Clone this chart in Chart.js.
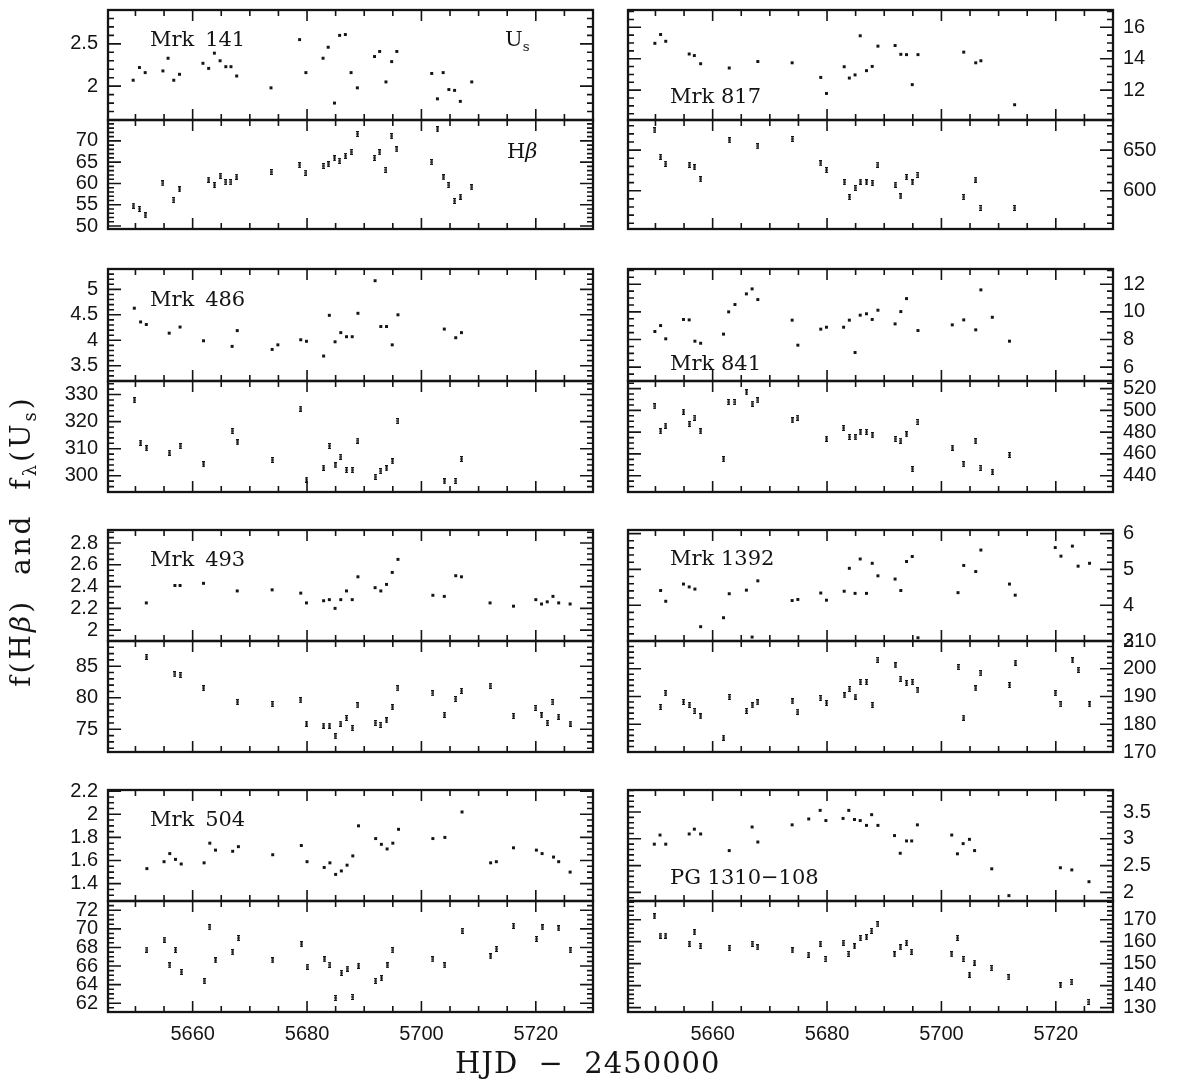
<!DOCTYPE html>
<html>
<head>
<meta charset="utf-8">
<title>Us and Hbeta light curves</title>
<script src="https://cdn.jsdelivr.net/npm/chart.js@4.4.1/dist/chart.umd.min.js"></script>
<style>
  html, body { margin: 0; padding: 0; background: #fff; }
  #page { position: relative; width: 1177px; height: 1082px; overflow: hidden; }
  #page canvas { position: absolute; }
  .txt { position: absolute; font-family: "DejaVu Serif", serif; color: #141414;
         white-space: pre; font-size: 21px; line-height: 22px; }
  .txt sub { font-size: 64%; vertical-align: -0.35em; line-height: 0; }
</style>
</head>
<body>
<div id="page"></div>
<script>
// ---- data: HJD - 2450000 and fluxes ----
const mrk141UsDays = [5649.6, 5650.7, 5651.7, 5654.8, 5655.7, 5656.7, 5657.7, 5661.8, 5662.8, 5663.8, 5664.8, 5665.8, 5666.7, 5667.7, 5673.7, 5678.7, 5679.8, 5682.8, 5683.7, 5684.8, 5685.7, 5686.7, 5687.7, 5688.8, 5691.8, 5692.7, 5693.8, 5694.8, 5695.7, 5701.8, 5702.8, 5703.8, 5704.8, 5705.8, 5706.8, 5708.8];
const mrk141Us = [2.07, 2.22, 2.16, 2.18, 2.33, 2.07, 2.14, 2.27, 2.21, 2.39, 2.30, 2.23, 2.23, 2.12, 1.98, 2.55, 2.16, 2.33, 2.46, 1.80, 2.60, 2.61, 2.16, 1.98, 2.35, 2.41, 2.05, 2.29, 2.41, 2.15, 1.85, 2.16, 1.96, 1.95, 1.82, 2.05];
const mrk141HbDays = [5649.6, 5650.7, 5651.7, 5654.8, 5656.7, 5657.7, 5662.8, 5663.8, 5664.8, 5665.8, 5666.7, 5667.7, 5673.7, 5678.7, 5679.8, 5682.8, 5683.7, 5684.8, 5685.7, 5686.7, 5687.7, 5688.8, 5691.8, 5692.7, 5693.8, 5694.8, 5695.7, 5701.8, 5702.8, 5703.8, 5704.8, 5705.8, 5706.8, 5708.8];
const mrk141Hb = [54.8, 54.0, 52.5, 60.0, 56.1, 58.6, 60.9, 59.6, 61.8, 60.3, 60.3, 61.6, 62.7, 64.3, 62.5, 64.1, 64.5, 65.9, 65.3, 66.5, 67.4, 71.6, 66.0, 67.3, 63.2, 71.1, 68.0, 65.0, 72.7, 61.4, 59.6, 55.9, 56.9, 59.1];

const mrk817Days = [5649.9, 5650.9, 5651.8, 5655.9, 5656.8, 5657.9, 5662.9, 5667.9, 5673.9, 5678.9, 5679.9, 5683.0, 5683.9, 5684.9, 5685.8, 5686.9, 5687.9, 5688.9, 5691.9, 5692.9, 5693.9, 5694.9, 5695.9, 5703.9, 5706.0, 5706.9, 5712.8];
const mrk817Us = [14.98, 15.54, 15.11, 14.30, 14.20, 13.68, 13.41, 13.82, 13.74, 12.81, 11.79, 13.49, 12.77, 12.97, 15.46, 13.24, 13.51, 14.80, 14.84, 14.28, 14.26, 12.35, 14.26, 14.42, 13.74, 13.87, 11.07];
const mrk817Hb = [674.2, 641.8, 633.2, 632.0, 628.9, 614.1, 662.1, 654.7, 663.7, 633.6, 625.4, 610.5, 592.2, 603.5, 611.3, 610.2, 609.4, 632.0, 607.4, 593.0, 616.8, 610.2, 619.5, 592.2, 613.7, 578.9, 578.9];

const mrk486UsDays = [5649.8, 5650.9, 5651.9, 5655.9, 5657.8, 5661.9, 5666.9, 5667.8, 5673.9, 5674.9, 5678.9, 5679.9, 5682.9, 5683.9, 5684.9, 5685.9, 5686.9, 5687.9, 5688.9, 5691.9, 5692.9, 5693.9, 5694.9, 5695.9, 5704.0, 5706.0, 5707.0];
const mrk486Us = [4.63, 4.36, 4.31, 4.14, 4.26, 3.99, 3.88, 4.19, 3.82, 3.91, 4.01, 3.98, 3.69, 4.49, 3.97, 4.15, 4.07, 4.07, 4.53, 5.17, 4.27, 4.27, 3.91, 4.50, 4.22, 4.05, 4.15];
const mrk486HbDays = [5649.8, 5650.9, 5651.9, 5655.9, 5657.8, 5661.9, 5666.9, 5667.8, 5673.9, 5678.9, 5679.9, 5682.9, 5683.9, 5684.9, 5685.9, 5686.9, 5687.9, 5688.9, 5691.9, 5692.9, 5693.9, 5694.9, 5695.9, 5704.0, 5706.0, 5707.0];
const mrk486Hb = [327.9, 312.2, 310.2, 308.5, 310.9, 304.2, 316.5, 312.3, 305.8, 324.8, 298.6, 303.0, 311.0, 303.8, 307.0, 302.1, 302.1, 313.0, 299.6, 301.7, 302.7, 305.3, 320.2, 297.9, 298.1, 306.2];

const mrk841UsDays = [5649.9, 5650.9, 5651.8, 5654.9, 5655.9, 5656.9, 5657.9, 5661.9, 5662.8, 5663.9, 5665.9, 5666.9, 5667.9, 5673.9, 5674.9, 5678.9, 5679.9, 5682.9, 5683.9, 5684.9, 5685.8, 5686.9, 5687.9, 5688.9, 5691.9, 5692.9, 5693.9, 5695.9, 5701.9, 5703.9, 5706.0, 5706.9, 5708.9, 5711.9];
const mrk841Us = [8.58, 9.01, 8.05, 9.45, 9.42, 7.88, 7.73, 8.39, 10.0, 10.53, 11.30, 11.66, 10.89, 9.40, 7.59, 8.75, 8.89, 8.89, 9.40, 7.06, 9.76, 9.86, 9.45, 10.12, 9.13, 10.02, 10.96, 8.65, 9.06, 9.42, 8.70, 11.59, 9.61, 7.88];
const mrk841HbDays = [5649.9, 5650.9, 5651.8, 5654.9, 5655.9, 5656.9, 5657.9, 5661.9, 5662.8, 5663.9, 5665.9, 5666.9, 5667.9, 5673.9, 5674.9, 5679.9, 5682.9, 5683.9, 5684.9, 5685.8, 5686.9, 5687.9, 5691.9, 5692.9, 5693.9, 5694.9, 5695.9, 5701.9, 5703.9, 5706.0, 5706.9, 5708.9, 5711.9];
const mrk841Hb = [503.7, 480.8, 486.0, 498.8, 487.5, 493.3, 480.8, 455.1, 507.6, 507.6, 516.5, 506.1, 509.2, 490.8, 493.3, 474.0, 483.8, 475.6, 475.3, 479.8, 480.2, 477.1, 473.7, 472.2, 478.0, 446.0, 489.3, 465.8, 450.5, 471.6, 447.2, 443.5, 459.1];

const mrk493Days = [5651.9, 5656.9, 5657.8, 5661.9, 5667.8, 5673.9, 5678.9, 5679.9, 5682.9, 5683.9, 5684.9, 5685.9, 5686.9, 5687.9, 5688.9, 5691.9, 5692.9, 5693.9, 5694.9, 5695.9, 5702.0, 5704.0, 5706.0, 5707.0, 5712.0, 5716.1, 5720.0, 5721.0, 5722.0, 5723.0, 5724.0, 5726.0];
const mrk493Us = [2.25, 2.41, 2.41, 2.43, 2.36, 2.37, 2.34, 2.25, 2.27, 2.28, 2.20, 2.28, 2.36, 2.28, 2.49, 2.39, 2.36, 2.42, 2.53, 2.65, 2.32, 2.31, 2.50, 2.49, 2.25, 2.22, 2.28, 2.24, 2.26, 2.31, 2.25, 2.24];
const mrk493Hb = [86.5, 83.7, 83.6, 81.5, 79.3, 79.0, 79.6, 75.9, 75.6, 75.6, 73.9, 75.9, 76.8, 75.2, 78.8, 76.0, 75.7, 76.4, 78.5, 81.5, 80.7, 77.3, 79.8, 81.1, 81.9, 77.1, 78.4, 77.2, 76.0, 79.3, 77.0, 75.9];

const mrk1392Days = [5650.9, 5651.8, 5654.9, 5655.9, 5656.9, 5657.9, 5661.9, 5662.9, 5665.9, 5666.9, 5667.9, 5673.9, 5674.9, 5678.9, 5679.9, 5683.0, 5683.9, 5684.9, 5685.8, 5686.9, 5687.9, 5688.9, 5691.9, 5692.9, 5693.9, 5694.9, 5695.9, 5702.9, 5703.9, 5706.0, 5706.9, 5711.9, 5712.9, 5719.9, 5720.9, 5722.9, 5723.9, 5725.9];
const mrk1392Us = [4.41, 4.11, 4.59, 4.51, 4.45, 3.40, 3.65, 4.32, 4.42, 3.11, 4.68, 4.13, 4.16, 4.34, 4.14, 4.39, 5.03, 4.33, 5.29, 4.33, 5.17, 4.82, 4.73, 4.41, 5.22, 5.36, 3.09, 4.35, 5.11, 4.94, 5.54, 4.59, 4.28, 5.61, 5.37, 5.65, 5.09, 5.17];
const mrk1392Hb = [186.2, 191.2, 188.0, 187.0, 184.8, 182.8, 175.2, 189.8, 184.8, 186.8, 187.9, 188.2, 184.5, 189.4, 187.6, 190.4, 192.7, 190.0, 195.2, 195.2, 186.9, 203.2, 201.2, 196.4, 194.8, 195.2, 192.2, 200.6, 182.4, 192.9, 198.4, 194.1, 202.2, 191.2, 187.2, 203.0, 199.6, 187.2];

const mrk504UsDays = [5652.0, 5655.0, 5656.0, 5657.0, 5658.0, 5662.0, 5663.0, 5664.0, 5667.0, 5668.0, 5674.0, 5679.0, 5680.0, 5683.0, 5684.0, 5685.0, 5686.0, 5687.0, 5688.0, 5689.0, 5692.0, 5693.0, 5694.0, 5695.0, 5696.0, 5702.0, 5704.1, 5707.1, 5712.1, 5713.1, 5716.1, 5720.1, 5721.1, 5723.1, 5724.0, 5726.0];
const mrk504Us = [1.53, 1.59, 1.66, 1.61, 1.57, 1.58, 1.75, 1.69, 1.68, 1.72, 1.65, 1.73, 1.59, 1.54, 1.58, 1.48, 1.51, 1.56, 1.64, 1.90, 1.79, 1.74, 1.70, 1.75, 1.87, 1.79, 1.80, 2.02, 1.58, 1.59, 1.71, 1.69, 1.66, 1.63, 1.59, 1.50];
const mrk504HbDays = [5652.0, 5655.0, 5656.0, 5657.0, 5658.0, 5662.0, 5663.0, 5664.0, 5667.0, 5668.0, 5674.0, 5679.0, 5680.0, 5683.0, 5684.0, 5685.0, 5686.0, 5687.0, 5688.0, 5689.0, 5692.0, 5693.0, 5694.0, 5695.0, 5702.0, 5704.1, 5707.1, 5712.1, 5713.1, 5716.1, 5720.1, 5721.1, 5724.0, 5726.0];
const mrk504Hb = [67.77, 68.84, 66.07, 67.74, 65.36, 64.37, 70.18, 66.60, 67.49, 69.01, 66.60, 68.34, 65.93, 66.71, 66.14, 62.56, 65.26, 65.72, 62.67, 66.04, 64.40, 64.69, 66.07, 67.70, 66.71, 66.07, 69.79, 67.03, 67.84, 70.33, 68.91, 70.15, 70.04, 67.70];

const pg1310UsDays = [5649.8, 5650.8, 5651.8, 5655.9, 5656.8, 5657.9, 5662.9, 5666.9, 5667.9, 5673.9, 5676.8, 5678.8, 5679.8, 5682.8, 5683.8, 5684.8, 5685.8, 5686.9, 5687.8, 5688.9, 5691.8, 5692.8, 5693.9, 5694.8, 5695.8, 5701.8, 5702.8, 5703.8, 5704.9, 5705.8, 5708.8, 5711.8, 5720.8, 5722.8, 5725.8];
const pg1310Us = [2.90, 3.07, 2.90, 3.09, 3.18, 3.09, 2.78, 3.22, 2.94, 3.26, 3.37, 3.53, 3.34, 3.38, 3.53, 3.36, 3.34, 3.25, 3.45, 3.25, 3.06, 2.73, 2.96, 2.96, 3.26, 3.07, 2.72, 2.91, 2.99, 2.78, 2.44, 1.94, 2.46, 2.42, 2.20];
const pg1310HbDays = [5649.8, 5650.8, 5651.8, 5655.9, 5656.8, 5657.9, 5662.9, 5666.9, 5667.9, 5673.9, 5676.8, 5678.8, 5679.8, 5682.8, 5683.8, 5684.8, 5685.8, 5686.9, 5687.8, 5688.9, 5691.8, 5692.8, 5693.9, 5694.8, 5701.8, 5702.8, 5703.8, 5704.9, 5705.8, 5708.8, 5711.8, 5720.8, 5722.8, 5725.8];
const pg1310Hb = [171.5, 162.8, 162.8, 159.0, 164.3, 158.0, 157.1, 159.0, 157.4, 156.0, 154.1, 159.0, 152.1, 159.5, 154.4, 157.8, 161.6, 162.0, 164.9, 167.9, 154.2, 157.4, 159.5, 155.4, 154.2, 161.7, 152.1, 145.0, 150.5, 148.0, 143.8, 140.1, 141.6, 132.6];

// x tick labels under the bottom panels
const hjdTicks = [5660, 5680, 5700, 5720];

// ---- layout ----
const INK = '#141414';
const X_MIN = 5645.2, X_MAX = 5730;
const COL_LEFT = [108, 628];
const FRAME_W = 485;
// frame top, Us/Hb boundary, frame bottom of each row
const ROW_Y = [[10, 120, 229], [269, 381, 492], [530, 641, 752], [790, 901, 1012]];

const objects = [
  { name: 'Mrk \u2009141', col: 0, row: 0, nameDy: 36,
    us: { days: mrk141UsDays, vals: mrk141Us, min: 1.6, max: 2.9, major: 0.5, minor: 0.1 },
    hb: { days: mrk141HbDays, vals: mrk141Hb, min: 49.3, max: 74.9, major: 5, minor: 1 } },
  { name: 'Mrk 817', col: 1, row: 0, nameDy: 93,
    us: { days: mrk817Days, vals: mrk817Us, min: 10.1, max: 17.1, major: 2, minor: 0.5 },
    hb: { days: mrk817Days, vals: mrk817Hb, min: 553, max: 687, major: 50, minor: 10 } },
  { name: 'Mrk \u2009486', col: 0, row: 1, nameDy: 37,
    us: { days: mrk486UsDays, vals: mrk486Us, min: 3.2, max: 5.4, major: 0.5, minor: 0.1 },
    hb: { days: mrk486HbDays, vals: mrk486Hb, min: 294, max: 335, major: 10, minor: 2 } },
  { name: 'Mrk 841', col: 1, row: 1, nameDy: 101,
    us: { days: mrk841UsDays, vals: mrk841Us, min: 5.0, max: 13.1, major: 2, minor: 0.5 },
    hb: { days: mrk841HbDays, vals: mrk841Hb, min: 425, max: 527, major: 20, minor: 5 } },
  { name: 'Mrk \u2009493', col: 0, row: 2, nameDy: 36,
    us: { days: mrk493Days, vals: mrk493Us, min: 1.9, max: 2.92, major: 0.2, minor: 0.05 },
    hb: { days: mrk493Days, vals: mrk493Hb, min: 71.4, max: 89, major: 5, minor: 1 } },
  { name: 'Mrk 1392', col: 1, row: 2, nameDy: 35,
    us: { days: mrk1392Days, vals: mrk1392Us, min: 3.0, max: 6.1, major: 1, minor: 0.2 },
    hb: { days: mrk1392Days, vals: mrk1392Hb, min: 170, max: 210, major: 10, minor: 2 } },
  { name: 'Mrk \u2009504', col: 0, row: 3, nameDy: 36,
    us: { days: mrk504UsDays, vals: mrk504Us, min: 1.25, max: 2.21, major: 0.2, minor: 0.05 },
    hb: { days: mrk504HbDays, vals: mrk504Hb, min: 61.05, max: 73, major: 2, minor: 0.5 } },
  { name: 'PG 1310\u2212108', col: 1, row: 3, nameDy: 94,
    us: { days: pg1310UsDays, vals: pg1310Us, min: 1.84, max: 3.91, major: 0.5, minor: 0.1 },
    hb: { days: pg1310HbDays, vals: pg1310Hb, min: 128, max: 178.5, major: 10, minor: 2 } }
];

// small "I" shaped marker for the H-beta points (error bar look)
function errGlyph() {
  const g = document.createElement('canvas');
  g.width = 3; g.height = 6;
  const c = g.getContext('2d');
  c.fillStyle = INK;
  c.fillRect(0, 0, 3, 1.3);
  c.fillRect(1, 0, 1.2, 6);
  c.fillRect(0, 2.4, 3, 1.2);
  c.fillRect(0, 4.7, 3, 1.3);
  return g;
}
const HB_MARK = errGlyph();

// frame plus inward ticks on all four sides
const frameTicks = {
  id: 'frameTicks',
  afterDatasetsDraw(chart, args, o) {
    const { ctx, chartArea: a } = chart;
    const x = chart.scales.x, y = chart.scales.y;
    ctx.save();
    ctx.strokeStyle = INK;
    ctx.lineWidth = 1.6;
    ctx.beginPath();
    for (let k = Math.ceil(x.min / 5); k * 5 <= x.max; k++) {
      const px = x.getPixelForValue(k * 5);
      const len = (k % 4 === 0) ? 11 : 6;
      ctx.moveTo(px, a.top); ctx.lineTo(px, a.top + len);
      ctx.moveTo(px, a.bottom); ctx.lineTo(px, a.bottom - len);
    }
    const ratio = Math.round(o.major / o.minor);
    const k0 = Math.ceil(y.min / o.minor - 1e-6), k1 = Math.floor(y.max / o.minor + 1e-6);
    for (let k = k0; k <= k1; k++) {
      const py = y.getPixelForValue(k * o.minor);
      const len = (k % ratio === 0) ? 13 : 6;
      ctx.moveTo(a.left, py); ctx.lineTo(a.left + len, py);
      ctx.moveTo(a.right, py); ctx.lineTo(a.right - len, py);
    }
    ctx.stroke();
    ctx.lineWidth = 2.3;
    ctx.strokeRect(a.left, a.top, a.right - a.left, a.bottom - a.top);
    ctx.restore();
  }
};

const tickText = v => String(Number(v.toFixed(4)));
const page = document.getElementById('page');

function makePanel(obj, s, key) {
  // PADV must exceed half a label height plus the tick label padding
  const AX = 70, SIDE = 6, PADV = 28, XAX = 40;
  const left = COL_LEFT[obj.col];
  const top = ROW_Y[obj.row][key === 'us' ? 0 : 1];
  const bottom = ROW_Y[obj.row][key === 'us' ? 1 : 2];
  const isBottom = obj.row === 3 && key === 'hb';
  const onLeft = obj.col === 0;

  const cv = document.createElement('canvas');
  cv.width = FRAME_W + AX + SIDE;
  cv.height = (bottom - top) + PADV + (isBottom ? XAX : PADV);
  cv.style.left = (onLeft ? left - AX : left - SIDE) + 'px';
  cv.style.top = (top - PADV) + 'px';
  page.appendChild(cv);

  new Chart(cv, {
    type: 'scatter',
    data: {
      datasets: [{
        data: s.days.map((d, i) => ({ x: d, y: s.vals[i] })),
        pointStyle: key === 'us' ? 'rect' : HB_MARK,
        pointRadius: key === 'us' ? 2.1 : 3,
        backgroundColor: INK,
        borderWidth: 0
      }]
    },
    plugins: [frameTicks],
    options: {
      responsive: false,
      animation: false,
      events: [],
      layout: { padding: { left: onLeft ? 0 : SIDE, right: onLeft ? SIDE : 0, top: PADV, bottom: isBottom ? 0 : PADV } },
      plugins: {
        legend: { display: false },
        tooltip: { enabled: false },
        frameTicks: { major: s.major, minor: s.minor }
      },
      scales: {
        x: {
          type: 'linear', min: X_MIN, max: X_MAX,
          display: isBottom,
          afterFit: sc => { sc.height = isBottom ? XAX : 0; },
          afterBuildTicks: sc => { sc.ticks = hjdTicks.map(v => ({ value: v })); },
          grid: { display: false, drawTicks: false },
          border: { display: false },
          ticks: { padding: 10, maxRotation: 0, autoSkip: false, color: INK,
                   font: { family: 'Liberation Sans', size: 20 }, callback: tickText }
        },
        y: {
          type: 'linear', position: onLeft ? 'left' : 'right',
          min: s.min, max: s.max,
          afterFit: sc => { sc.width = AX; },
          grid: { display: false, drawTicks: false },
          border: { display: false },
          ticks: { stepSize: s.major, includeBounds: false, autoSkip: false, padding: 10, color: INK,
                   font: { family: 'Liberation Sans', size: 20 }, callback: tickText }
        }
      }
    }
  });
}

function addText(html, left, baseline, extra) {
  const d = document.createElement('div');
  d.className = 'txt';
  d.innerHTML = html;
  d.style.left = left + 'px';
  d.style.top = (baseline - 18.4) + 'px';
  if (extra) Object.assign(d.style, extra);
  page.appendChild(d);
  return d;
}

objects.forEach(obj => {
  makePanel(obj, obj.us, 'us');
  makePanel(obj, obj.hb, 'hb');
});
objects.forEach(obj => {
  addText(obj.name, COL_LEFT[obj.col] + 42, ROW_Y[obj.row][0] + obj.nameDy);
});

// band labels in the first panel pair
addText('U<sub>s</sub>', 505, 46);
addText('H<i>\u03b2</i>', 507, 158);

// axis titles
addText('HJD  \u2212  2450000', 455, 1073, { fontSize: '29px', lineHeight: '30px', letterSpacing: '1px', top: '1048px' });
addText('f(H<i>\u03b2</i>)  and  f<sub>\u03bb</sub>(U<sub>s</sub>)', 0, 0,
  { fontSize: '28px', lineHeight: '30px', letterSpacing: '3px', width: '400px', textAlign: 'center',
    left: (21 - 200) + 'px', top: (541 - 15) + 'px', transform: 'rotate(-90deg)' });
</script>
</body>
</html>
